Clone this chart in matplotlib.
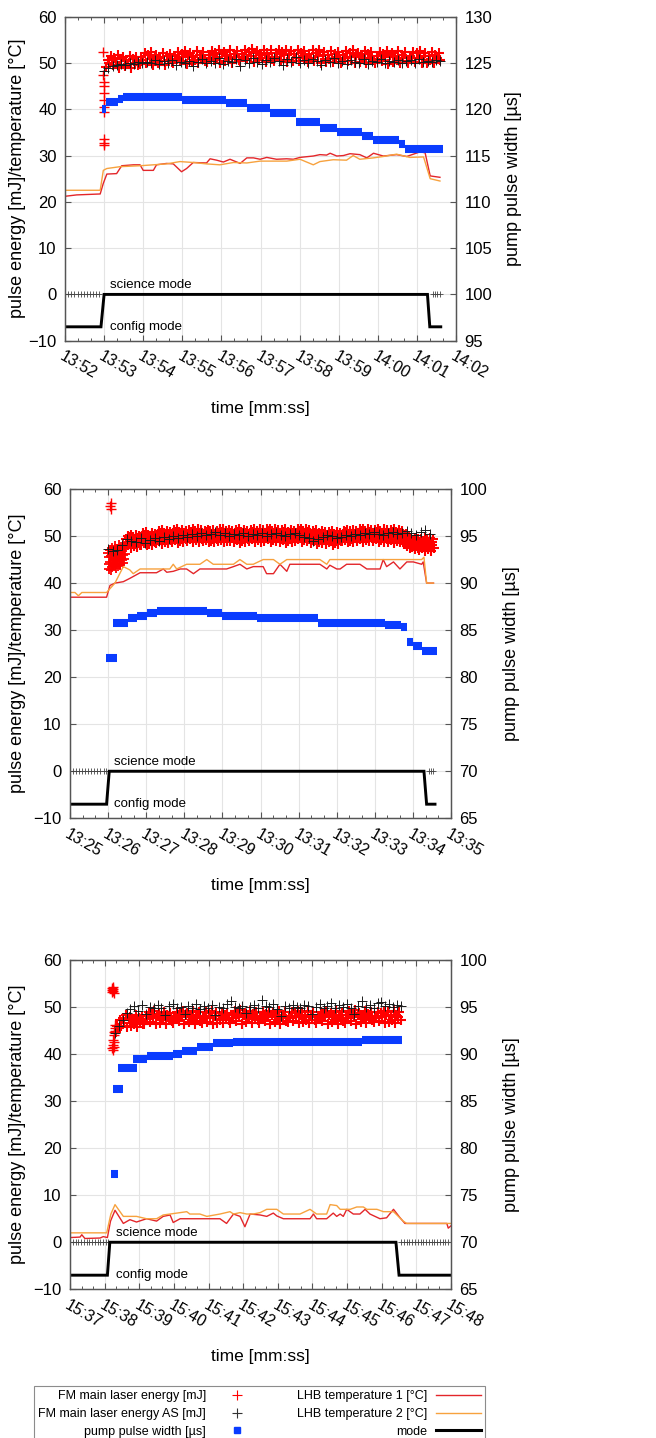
import numpy as np
import matplotlib
matplotlib.use('Agg')
import matplotlib.pyplot as plt
from matplotlib.lines import Line2D
from matplotlib.ticker import MultipleLocator

plt.rcParams['font.family'] = ['Liberation Sans', 'DejaVu Sans']

# ---------------------------------------------------------------- DATA
# time unit: minutes after the first tick of each panel

# ---- panel 1 (13:52 .. 14:02)
p1_ticklabels = ['13:52', '13:53', '13:54', '13:55', '13:56', '13:57',
                 '13:58', '13:59', '14:00', '14:01', '14:02']
p1_red_span = (1.05, 9.60)
p1_red = [49.1, 50.7, 50.0, 51.5, 49.5, 51.1, 50.3, 51.7, 48.9, 50.8, 51.2, 49.3, 50.5, 49.8, 51.6, 49.0, 50.9, 50.1, 51.4, 49.6,
          49.7, 51.3, 50.6, 52.1, 50.1, 51.7, 50.9, 52.3, 49.5, 51.4, 51.8, 49.9, 51.1, 50.4, 52.2, 49.6, 51.5, 50.7, 52.0, 50.2,
          50.0, 51.6, 50.9, 52.4, 50.4, 52.0, 51.2, 52.6, 49.8, 51.7, 52.1, 50.2, 51.4, 50.7, 52.5, 49.9, 51.8, 51.0, 52.3, 50.5,
          50.2, 51.8, 51.1, 52.6, 50.6, 52.2, 51.4, 52.8, 50.0, 51.9, 52.3, 50.4, 51.6, 50.9, 52.7, 50.1, 52.0, 51.2, 52.5, 50.7,
          50.4, 52.0, 51.3, 52.8, 50.8, 52.4, 51.6, 53.0, 50.2, 52.1, 52.5, 50.6, 51.8, 51.1, 52.9, 50.3, 52.2, 51.4, 52.7, 50.9,
          50.5, 52.1, 51.2, 52.9, 50.7, 52.3, 51.7, 52.9, 50.3, 52.0, 52.6, 50.5, 51.9, 51.0, 52.8, 50.4, 52.1, 51.5, 52.6, 51.0,
          50.3, 51.9, 51.0, 52.7, 50.5, 52.1, 51.5, 52.7, 50.1, 51.8, 52.4, 50.3, 51.7, 50.8, 52.6, 50.2, 51.9, 51.3, 52.4, 50.8,
          50.1, 51.7, 51.0, 52.5, 50.5, 52.1, 51.3, 52.7, 49.9, 51.8, 52.2, 50.3, 51.5, 50.8, 52.6, 50.0, 51.9, 51.1, 52.4, 50.6,
          50.0, 51.6, 50.9, 52.4, 50.4, 52.0, 51.2, 52.6, 49.8, 51.7, 52.1, 50.2, 51.4, 50.7, 52.5, 49.9, 51.8, 51.0, 52.3, 50.5,
          50.1, 51.5, 51.0, 52.3, 50.3, 52.1, 51.1, 52.5, 49.9, 51.6, 52.2, 50.1, 51.5, 50.6, 52.4, 50.0, 51.7, 51.1, 52.2, 50.6]
p1_red_out_t = [0.98, 0.98, 0.99, 0.99, 1.00, 1.00, 1.00, 1.01, 0.99, 1.00, 1.00]
p1_red_out = [52.3, 47.5, 46.0, 45.0, 43.5, 42.0, 40.5, 39.5, 33.5, 32.8, 32.3]
p1_blk_span = (1.00, 9.60)
p1_blk = [48.2, 49.0, 49.3, 49.6, 49.8, 49.5, 50.0, 49.7, 50.2, 49.9,
          50.3, 50.0, 50.6, 49.8, 50.4, 50.1, 50.7, 49.6, 50.3, 50.0,
          50.5, 49.4, 50.2, 50.8, 49.9, 50.4, 50.1, 51.0, 49.7, 50.5,
          50.2, 50.9, 49.3, 50.6, 50.0, 51.1, 50.3, 49.8, 50.7, 50.2,
          51.0, 50.4, 49.5, 50.8, 50.3, 51.2, 49.9, 50.6, 50.1, 50.9,
          50.4, 49.6, 50.7, 50.2, 51.0, 50.0, 50.5, 49.8, 50.6, 50.3,
          50.1, 50.8, 49.7, 50.4, 50.2, 50.9, 50.0, 50.5, 50.3, 50.7,
          49.9, 50.4, 50.6, 50.1, 50.8, 50.3, 50.5, 50.2, 50.6, 50.4]
p1_blk_zero_t = [0.00, 0.08, 0.16, 0.24, 0.32, 0.40, 0.48, 0.56, 0.64, 0.72, 0.80, 0.88,
                 9.40, 9.46, 9.52, 9.58]
p1_pump_t0 = [0.94, 1.05, 1.36, 1.49, 2.98, 4.13, 4.65, 5.24, 5.92, 6.52, 6.95, 7.59, 7.89, 8.53, 8.70]
p1_pump_t1 = [1.05, 1.36, 1.49, 2.98, 4.13, 4.65, 5.24, 5.92, 6.52, 6.95, 7.59, 7.89, 8.53, 8.70, 9.68]
p1_pump = [120.0, 120.8, 121.1, 121.3, 121.0, 120.7, 120.1, 119.6, 118.6, 118.0,
           117.5, 117.1, 116.7, 116.3, 115.7]
p1_t1_t = [0.00, 0.30, 0.90, 0.98, 1.07, 1.32, 1.45, 1.75, 1.92, 2.00,
           2.26, 2.34, 2.60, 2.77, 2.98, 3.11, 3.28, 3.62, 3.71, 3.88,
           4.05, 4.22, 4.48, 4.65, 4.82, 4.99, 5.16, 5.41, 5.67, 5.84,
           6.01, 6.35, 6.52, 6.69, 6.78, 6.95, 7.12, 7.29, 7.54, 7.72,
           7.89, 8.14, 8.48, 8.74, 9.08, 9.21, 9.34, 9.59]
p1_t1 = [21.2, 21.5, 21.7, 24.0, 26.0, 26.1, 27.8, 28.0, 28.0, 26.8,
         26.8, 28.0, 28.3, 28.2, 26.5, 27.2, 28.5, 28.4, 29.3, 29.0,
         28.6, 29.2, 28.3, 29.5, 29.5, 29.2, 29.6, 29.2, 29.3, 29.2,
         29.6, 29.9, 30.2, 30.1, 30.5, 29.9, 30.0, 30.4, 30.2, 29.5,
         30.5, 29.9, 30.2, 29.8, 30.8, 30.6, 25.6, 25.3]
p1_t2_t = [0.00, 0.90, 0.98, 1.07, 1.41, 1.92, 2.26, 2.60, 2.94, 3.28,
           3.62, 3.96, 4.31, 4.65, 4.99, 5.33, 5.67, 6.01, 6.35, 6.52,
           6.86, 7.20, 7.37, 7.54, 7.89, 8.14, 8.48, 8.82, 9.17, 9.34, 9.59]
p1_t2 = [22.5, 22.5, 26.8, 27.2, 27.6, 27.8, 28.0, 28.2, 28.7, 28.5,
         28.2, 28.0, 28.5, 28.4, 28.8, 28.8, 28.8, 29.2, 28.0, 28.7,
         29.1, 29.0, 30.0, 29.2, 29.5, 29.8, 30.3, 29.6, 29.7, 25.0, 24.5]
p1_mode_t = [0.00, 0.92, 1.00, 9.27, 9.33, 9.61]
p1_mode = [-7, -7, 0, 0, -7, -7]
p1_text_t = 1.15

# ---- panel 2 (13:25 .. 13:35)
p2_ticklabels = ['13:25', '13:26', '13:27', '13:28', '13:29', '13:30',
                 '13:31', '13:32', '13:33', '13:34', '13:35']
p2_red_cl_span = (1.00, 1.45)
p2_red_cl = [46.5, 44.0, 45.5, 43.0, 47.0, 44.5, 42.8, 45.8, 47.5, 43.5,
             46.0, 44.2, 46.8, 43.8, 45.2, 47.8, 44.8, 46.2, 43.3, 45.0,
             47.2, 44.6, 46.4, 43.6, 45.6, 48.0, 44.1, 46.6, 43.9, 45.4,
             47.6, 44.9, 46.9, 44.3, 45.9, 48.2, 45.1, 47.3, 46.1, 47.9]
p2_red_span = (1.45, 9.55)
p2_red = [47.7, 49.3, 48.6, 50.1, 48.1, 49.7, 48.9, 50.3, 47.5, 49.4, 49.8, 47.9, 49.1, 48.4, 50.2, 47.6, 49.5, 48.7, 50.0, 48.2,
          48.2, 49.8, 49.1, 50.6, 48.6, 50.2, 49.4, 50.8, 48.0, 49.9, 50.3, 48.4, 49.6, 48.9, 50.7, 48.1, 50.0, 49.2, 50.5, 48.7,
          48.6, 50.2, 49.5, 51.0, 49.0, 50.6, 49.8, 51.2, 48.4, 50.3, 50.7, 48.8, 50.0, 49.3, 51.1, 48.5, 50.4, 49.6, 50.9, 49.1,
          48.8, 50.4, 49.7, 51.2, 49.2, 50.8, 50.0, 51.4, 48.6, 50.5, 50.9, 49.0, 50.2, 49.5, 51.3, 48.7, 50.6, 49.8, 51.1, 49.3,
          48.9, 50.5, 49.8, 51.3, 49.3, 50.9, 50.1, 51.5, 48.7, 50.6, 51.0, 49.1, 50.3, 49.6, 51.4, 48.8, 50.7, 49.9, 51.2, 49.4,
          48.9, 50.3, 49.8, 51.1, 49.1, 50.9, 49.9, 51.3, 48.7, 50.4, 51.0, 48.9, 50.3, 49.4, 51.2, 48.8, 50.5, 49.9, 51.0, 49.4,
          48.9, 50.6, 49.7, 51.4, 49.2, 50.8, 50.2, 51.4, 48.8, 50.5, 51.1, 49.0, 50.4, 49.5, 51.3, 48.9, 50.6, 50.0, 51.1, 49.5,
          48.8, 50.4, 49.7, 51.2, 49.2, 50.8, 50.0, 51.4, 48.6, 50.5, 50.9, 49.0, 50.2, 49.5, 51.3, 48.7, 50.6, 49.8, 51.1, 49.3,
          48.9, 50.5, 49.8, 51.3, 49.3, 50.9, 50.1, 51.5, 48.7, 50.6, 51.0, 49.1, 50.3, 49.6, 51.4, 48.8, 50.7, 49.9, 51.2, 49.4,
          49.0, 50.6, 49.9, 51.4, 49.4, 51.0, 50.2, 51.6, 48.8, 50.7, 51.1, 49.2, 50.4, 49.7, 51.5, 48.9, 50.8, 50.0, 51.3, 49.5,
          48.8, 50.4, 49.7, 51.2, 49.2, 50.8, 50.0, 51.4, 48.6, 50.5, 50.9, 49.0, 50.2, 49.5, 51.3, 48.7, 50.6, 49.8, 51.1, 49.3,
          49.0, 50.6, 49.9, 51.4, 49.4, 51.0, 50.2, 51.6, 48.8, 50.7, 51.1, 49.2, 50.4, 49.7, 51.5, 48.9, 50.8, 50.0, 51.3, 49.5,
          48.6, 50.2, 49.5, 51.0, 49.0, 50.6, 49.8, 51.2, 48.4, 50.3, 50.7, 48.8, 50.0, 49.3, 51.1, 48.5, 50.4, 49.6, 50.9, 49.1,
          48.4, 50.0, 49.3, 50.8, 48.8, 50.4, 49.6, 51.0, 48.2, 50.1, 50.5, 48.6, 49.8, 49.1, 50.9, 48.3, 50.2, 49.4, 50.7, 48.9,
          48.9, 50.3, 49.8, 51.1, 49.1, 50.9, 49.9, 51.3, 48.7, 50.4, 51.0, 48.9, 50.3, 49.4, 51.2, 48.8, 50.5, 49.9, 51.0, 49.4,
          49.0, 50.6, 49.9, 51.4, 49.4, 51.0, 50.2, 51.6, 48.8, 50.7, 51.1, 49.2, 50.4, 49.7, 51.5, 48.9, 50.8, 50.0, 51.3, 49.5,
          48.9, 50.5, 49.8, 51.3, 49.3, 50.9, 50.1, 51.5, 48.7, 50.6, 51.0, 49.1, 50.3, 49.6, 51.4, 48.8, 50.7, 49.9, 51.2, 49.4,
          48.8, 50.4, 49.7, 51.2, 49.2, 50.8, 50.0, 51.4, 48.6, 50.5, 50.9, 49.0, 50.2, 49.5, 51.3, 48.7, 50.6, 49.8, 51.1, 49.3,
          48.3, 49.9, 48.8, 50.4, 47.9, 49.6, 48.6, 50.0, 47.5, 49.0, 49.3, 47.6, 48.7, 47.9, 49.6, 47.2, 48.8, 48.0, 49.3, 47.5,
          47.0, 48.6, 47.9, 49.4, 47.4, 49.0, 48.2, 49.6, 46.8, 48.7, 49.1, 47.2, 48.4, 47.7, 49.5, 46.9, 48.8, 48.0, 49.3, 47.5]
p2_red_out_t = [1.06, 1.07, 1.08]
p2_red_out = [56.3, 57.0, 55.8]
p2_blk_span = (1.00, 9.45)
p2_blk = [47.2, 46.9, 47.0, 48.0, 49.3, 49.0, 48.8, 49.5, 48.6, 49.2,
          49.6, 49.0, 49.8, 49.3, 50.0, 49.6, 50.3, 49.8, 50.5, 50.1,
          50.7, 50.2, 50.4, 50.8, 50.3, 50.6, 50.1, 50.5, 50.2, 50.7,
          50.0, 50.4, 50.2, 50.6, 50.1, 50.5, 50.7, 50.3, 50.0, 50.4,
          50.6, 50.2, 49.8, 49.5, 49.0, 49.4, 49.8, 50.2, 50.0, 49.6,
          49.8, 50.3, 50.0, 50.5, 50.2, 50.6, 50.4, 50.8, 50.5, 50.3,
          50.6, 50.9, 50.4, 50.7, 51.0, 50.6, 50.2, 50.8, 51.3, 50.5]
p2_blk_zero_t = [0.00, 0.08, 0.16, 0.24, 0.32, 0.40, 0.48, 0.56, 0.64, 0.72, 0.80, 0.88, 0.95,
                 9.42, 9.48, 9.54]
p2_pump_t0 = [0.95, 1.14, 1.53, 1.75, 2.01, 2.28, 3.59, 3.98, 4.90, 6.52, 8.27, 8.70, 8.84, 9.01, 9.23]
p2_pump_t1 = [1.24, 1.53, 1.75, 2.01, 2.28, 3.59, 3.98, 4.90, 6.52, 8.27, 8.70, 8.84, 9.01, 9.23, 9.62]
p2_pump = [82.0, 85.8, 86.25, 86.55, 86.8, 87.05, 86.8, 86.55, 86.25, 85.8,
           85.55, 85.3, 83.75, 83.3, 82.8]
p2_t1_t = [0.00, 0.96, 1.05, 1.18, 1.40, 1.57, 1.84, 2.27, 2.45, 2.54,
           2.71, 2.89, 3.06, 3.24, 3.41, 3.76, 4.11, 4.29, 4.46, 4.64,
           4.81, 5.07, 5.16, 5.34, 5.51, 5.69, 5.77, 6.04, 6.30, 6.56,
           6.74, 6.82, 7.00, 7.09, 7.26, 7.61, 7.79, 8.14, 8.22, 8.31,
           8.49, 8.66, 8.84, 9.01, 9.23, 9.27, 9.36, 9.54]
p2_t1 = [37.0, 37.0, 39.5, 40.0, 40.3, 41.0, 42.2, 42.2, 43.0, 42.3,
         42.5, 43.0, 43.0, 42.0, 43.0, 43.0, 43.0, 43.5, 44.0, 43.0,
         43.5, 43.5, 42.0, 42.0, 44.0, 42.5, 44.0, 44.0, 44.0, 44.0,
         43.0, 43.8, 43.0, 43.0, 44.0, 44.0, 43.0, 43.0, 45.0, 43.5,
         44.5, 43.0, 44.5, 44.5, 44.0, 44.5, 40.0, 40.0]
p2_t2_t = [0.00, 0.13, 0.22, 0.31, 0.96, 1.18, 1.40, 1.57, 1.66, 1.84,
           2.27, 2.62, 2.71, 2.80, 3.06, 3.41, 3.59, 3.76, 4.11, 4.29,
           4.46, 4.64, 4.81, 5.07, 5.34, 5.51, 5.69, 6.04, 6.56, 6.74,
           6.82, 7.26, 7.79, 8.22, 9.23, 9.29, 9.36, 9.54]
p2_t2 = [38.0, 38.0, 37.3, 38.0, 38.0, 40.0, 43.5, 42.8, 42.0, 43.0,
         43.0, 43.0, 44.0, 43.0, 44.0, 44.0, 45.0, 44.0, 44.0, 44.0,
         45.0, 44.0, 44.0, 45.0, 45.0, 44.0, 45.0, 45.0, 45.0, 44.0,
         45.0, 45.0, 45.0, 45.0, 45.0, 45.5, 40.0, 40.0]
p2_mode_t = [0.00, 0.96, 1.03, 9.29, 9.36, 9.58]
p2_mode = [-7, -7, 0, 0, -7, -7]
p2_text_t = 1.16

# ---- panel 3 (15:37 .. 15:48)
p3_ticklabels = ['15:37', '15:38', '15:39', '15:40', '15:41', '15:42',
                 '15:43', '15:44', '15:45', '15:46', '15:47', '15:48']
p3_red_span = (1.32, 9.55)
p3_red = [44.8, 46.0, 45.5, 47.2, 45.9, 47.6, 46.6, 48.3, 45.8, 47.5, 47.9, 46.0, 47.2, 46.5, 48.3, 45.7, 47.6, 46.8, 48.1, 46.3,
          46.5, 48.1, 47.4, 48.9, 46.9, 48.5, 47.7, 49.1, 46.3, 48.2, 48.6, 46.7, 47.9, 47.2, 49.0, 46.4, 48.3, 47.5, 48.8, 47.0,
          46.6, 48.2, 47.5, 49.0, 47.0, 48.6, 47.8, 49.2, 46.4, 48.3, 48.7, 46.8, 48.0, 47.3, 49.1, 46.5, 48.4, 47.6, 48.9, 47.1,
          46.7, 48.1, 47.6, 48.9, 46.9, 48.7, 47.7, 49.1, 46.5, 48.2, 48.8, 46.7, 48.1, 47.2, 49.0, 46.6, 48.3, 47.7, 48.8, 47.2,
          46.7, 48.3, 47.6, 49.1, 47.1, 48.7, 47.9, 49.3, 46.5, 48.4, 48.8, 46.9, 48.1, 47.4, 49.2, 46.6, 48.5, 47.7, 49.0, 47.2,
          46.6, 48.2, 47.5, 49.0, 47.0, 48.6, 47.8, 49.2, 46.4, 48.3, 48.7, 46.8, 48.0, 47.3, 49.1, 46.5, 48.4, 47.6, 48.9, 47.1,
          46.8, 48.2, 47.7, 49.0, 47.0, 48.8, 47.8, 49.2, 46.6, 48.3, 48.9, 46.8, 48.2, 47.3, 49.1, 46.7, 48.4, 47.8, 48.9, 47.3,
          46.6, 48.2, 47.5, 49.0, 47.0, 48.6, 47.8, 49.2, 46.4, 48.3, 48.7, 46.8, 48.0, 47.3, 49.1, 46.5, 48.4, 47.6, 48.9, 47.1,
          46.7, 48.3, 47.6, 49.1, 47.1, 48.7, 47.9, 49.3, 46.5, 48.4, 48.8, 46.9, 48.1, 47.4, 49.2, 46.6, 48.5, 47.7, 49.0, 47.2,
          46.8, 48.2, 47.7, 49.0, 47.0, 48.8, 47.8, 49.2, 46.6, 48.3, 48.9, 46.8, 48.2, 47.3, 49.1, 46.7, 48.4, 47.8, 48.9, 47.3]
p3_red_out_t = [1.20, 1.21, 1.22, 1.23, 1.24, 1.25, 1.26,
                1.22, 1.23, 1.24, 1.25, 1.26, 1.27,
                1.27, 1.28, 1.29, 1.30, 1.31]
p3_red_out = [54.0, 53.6, 53.2, 53.8, 54.2, 53.4, 53.0,
              41.2, 42.0, 40.8, 43.0, 41.6, 42.5,
              44.0, 44.8, 45.5, 46.2, 45.0]
p3_blk_span = (1.30, 9.55)
p3_blk = [44.5, 46.0, 47.3, 48.8, 49.6, 50.3, 49.2, 50.5, 48.6, 50.1,
          49.8, 50.4, 49.9, 48.4, 50.2, 50.6, 49.7, 50.0, 48.5, 50.3,
          49.9, 50.7, 49.6, 50.2, 49.8, 50.5, 48.3, 50.1, 49.9, 50.6,
          51.2, 50.0, 49.7, 50.3, 48.7, 50.1, 50.5, 49.8, 51.4, 50.2,
          50.0, 50.6, 49.6, 48.2, 50.3, 49.9, 50.4, 50.1, 49.7, 50.5,
          50.2, 48.6, 50.0, 50.6, 49.8, 50.3, 50.8, 49.9, 50.4, 50.1,
          50.7, 49.8, 48.5, 50.3, 51.2, 50.0, 50.5, 49.9, 50.8, 51.0,
          50.3, 50.6, 50.1, 50.4, 50.3]
p3_blk_zero_t = [0.00, 0.08, 0.16, 0.24, 0.32, 0.40, 0.48, 0.56, 0.64, 0.72, 0.80, 0.88,
                 0.96, 1.04, 1.10,
                 9.56, 9.64, 9.72, 9.80, 9.88, 9.96, 10.04, 10.12, 10.20, 10.28,
                 10.36, 10.44, 10.52, 10.60, 10.68, 10.76, 10.84, 10.92, 11.00]
p3_pump_t0 = [1.18, 1.25, 1.40, 1.83, 2.21, 2.98, 3.22, 3.66, 4.14, 4.72, 8.42]
p3_pump_t1 = [1.40, 1.52, 1.92, 2.21, 2.98, 3.22, 3.66, 4.14, 4.72, 8.42, 9.58]
p3_pump = [77.25, 86.25, 88.55, 89.5, 89.75, 90.0, 90.35, 90.8, 91.15, 91.3, 91.55]
p3_t1_t = [0.00, 0.29, 0.34, 0.43, 0.87, 0.96, 1.08, 1.17, 1.30, 1.54,
           1.73, 1.92, 2.21, 2.50, 2.69, 2.89, 2.98, 3.18, 3.75, 4.33,
           4.52, 4.72, 4.91, 5.05, 5.20, 5.49, 5.68, 5.87, 5.97, 6.16,
           6.64, 6.93, 7.03, 7.12, 7.41, 7.60, 7.70, 7.80, 7.89, 7.99,
           8.18, 8.37, 8.52, 8.66, 8.95, 9.14, 9.34, 9.53, 9.67, 10.88,
           10.92, 11.00]
p3_t1 = [1.0, 1.1, 1.6, 0.8, 0.9, 1.2, 1.0, 4.5, 6.8, 4.0,
         4.8, 4.3, 5.0, 4.5, 5.5, 5.8, 4.2, 5.0, 5.0, 5.0,
         4.0, 6.0, 5.5, 3.3, 6.0, 5.8, 5.5, 6.2, 5.6, 5.0,
         5.0, 5.0, 6.0, 5.0, 5.0, 6.2, 5.5, 6.0, 5.5, 7.0,
         6.0, 6.0, 7.0, 6.0, 5.0, 5.2, 7.0, 5.2, 4.0, 4.0,
         3.0, 3.5]
p3_t2_t = [0.00, 1.06, 1.18, 1.30, 1.54, 1.92, 2.21, 2.50, 2.69, 2.89,
           3.18, 3.37, 3.46, 3.75, 3.95, 4.33, 4.62, 4.72, 4.91, 5.10,
           5.29, 5.49, 5.68, 5.97, 6.16, 6.64, 6.93, 7.12, 7.41, 7.51,
           7.70, 7.80, 8.09, 8.28, 8.47, 8.57, 8.86, 9.05, 9.34, 9.62,
           9.72, 11.00]
p3_t2 = [2.0, 2.0, 6.0, 8.0, 5.5, 5.5, 5.0, 5.0, 5.8, 6.0,
         6.3, 6.5, 6.0, 6.0, 5.5, 6.0, 6.5, 6.0, 6.3, 6.0,
         6.0, 6.3, 7.0, 7.0, 6.0, 6.0, 7.0, 6.0, 6.0, 8.0,
         7.8, 7.0, 7.0, 7.5, 7.5, 7.0, 7.0, 6.5, 6.5, 4.5,
         4.0, 4.0]
p3_mode_t = [0.00, 1.08, 1.15, 9.41, 9.50, 11.00]
p3_mode = [-7, -7, 0, 0, -7, -7]
p3_text_t = 1.33

y_left_lim = (-10, 60)
p1_y2_lim = (95, 130)
p23_y2_lim = (65, 100)

legend_labels = ['FM main laser energy [mJ]', 'FM main laser energy AS [mJ]',
                 'pump pulse width [\u00b5s]', 'LHB temperature 1 [\u00b0C]',
                 'LHB temperature 2 [\u00b0C]', 'mode']

# ---------------------------------------------------------------- STYLE
W, H, DPI = 656, 1438, 100
RED = '#ff0000'
BLK = '#1a1a1a'
BLUE = '#0a3cff'
T1C = '#e3262a'
T2C = '#f7a23e'
GRID = '#e4e4e4'
SPINE = '#555555'

fig = plt.figure(figsize=(W / DPI, H / DPI), dpi=DPI)

panels = [
    dict(box=(65, 16.7, 456, 340.7), labels=p1_ticklabels, y2=p1_y2_lim,
         red=(p1_red_span, p1_red), red_cl=None, red_out=(p1_red_out_t, p1_red_out),
         blk=(p1_blk_span, p1_blk), blk0=p1_blk_zero_t,
         pump=(p1_pump_t0, p1_pump_t1, p1_pump), t1=(p1_t1_t, p1_t1), t2=(p1_t2_t, p1_t2),
         mode=(p1_mode_t, p1_mode), text_t=p1_text_t, ylab2_x=505),
    dict(box=(70, 489, 451, 818.3), labels=p2_ticklabels, y2=p23_y2_lim,
         red=(p2_red_span, p2_red), red_cl=(p2_red_cl_span, p2_red_cl),
         red_out=(p2_red_out_t, p2_red_out),
         blk=(p2_blk_span, p2_blk), blk0=p2_blk_zero_t,
         pump=(p2_pump_t0, p2_pump_t1, p2_pump), t1=(p2_t1_t, p2_t1), t2=(p2_t2_t, p2_t2),
         mode=(p2_mode_t, p2_mode), text_t=p2_text_t, ylab2_x=503),
    dict(box=(70, 960, 451, 1289.3), labels=p3_ticklabels, y2=p23_y2_lim,
         red=(p3_red_span, p3_red), red_cl=None, red_out=(p3_red_out_t, p3_red_out),
         blk=(p3_blk_span, p3_blk), blk0=p3_blk_zero_t,
         pump=(p3_pump_t0, p3_pump_t1, p3_pump), t1=(p3_t1_t, p3_t1), t2=(p3_t2_t, p3_t2),
         mode=(p3_mode_t, p3_mode), text_t=p3_text_t, ylab2_x=503),
]

for p in panels:
    x0, y0, x1, y1 = p['box']
    wpx, hpx = x1 - x0, y1 - y0
    ax = fig.add_axes([x0 / W, 1 - y1 / H, wpx / W, hpx / H])
    ax2 = ax.twinx()
    n = len(p['labels']) - 1
    ax.set_xlim(0, n)
    ax.set_ylim(*y_left_lim)
    ax2.set_ylim(*p['y2'])

    ax.set_xticks(range(n + 1))
    ax.set_xticklabels(p['labels'], rotation=-30, ha='left', va='top',
                       rotation_mode='anchor', fontsize=11.5)
    ax.xaxis.set_minor_locator(MultipleLocator(1 / 3))
    ax.set_yticks(range(-10, 61, 10))
    ax.grid(True, which='major', color=GRID, lw=0.8)
    ax.set_axisbelow(True)

    # energies
    (rs, rv) = p['red']
    ax.plot(np.linspace(rs[0], rs[1], len(rv)), rv, ls='none', marker='+',
            color=RED, ms=7, mew=1.5)
    if p['red_cl'] is not None:
        cs, cv = p['red_cl']
        ax.plot(np.linspace(cs[0], cs[1], len(cv)), cv, ls='none', marker='+',
                color=RED, ms=7, mew=1.3)
    ax.plot(p['red_out'][0], p['red_out'][1], ls='none', marker='+', color=RED,
            ms=6.5, mew=1.0)
    (bs, bv) = p['blk']
    ax.plot(np.linspace(bs[0], bs[1], len(bv)), bv, ls='none', marker='+',
            color=BLK, ms=6.5, mew=0.7)
    ax.plot(p['blk0'], np.zeros(len(p['blk0'])), ls='none', marker='+',
            color='#444444', ms=5, mew=0.6)

    # temperatures and mode
    ax.plot(p['t1'][0], p['t1'][1], color=T1C, lw=1.0)
    ax.plot(p['t2'][0], p['t2'][1], color=T2C, lw=1.0)
    ax.plot(p['mode'][0], p['mode'][1], color='black', lw=2.1,
            solid_joinstyle='miter')
    ax.text(p['text_t'], 2.0, 'science mode', fontsize=9.5, ha='left', va='center')
    ax.text(p['text_t'], -7.0, 'config mode', fontsize=9.5, ha='left', va='center')

    # pump pulse width (right axis)
    t0s, t1s, pv = p['pump']
    ax2.hlines(pv, t0s, t1s, colors=BLUE, lw=5.8, capstyle='butt')

    # ticks / spines
    ax.tick_params(axis='x', which='both', direction='in', top=True, bottom=True,
                   pad=6)
    ax.tick_params(axis='x', which='major', length=4.5, width=0.8, color=SPINE)
    ax.tick_params(axis='x', which='minor', length=2.5, width=0.7, color=SPINE)
    ax.tick_params(axis='y', which='major', direction='in', length=4.5, width=0.8,
                   color=SPINE, labelsize=12, pad=6, right=False)
    ax2.tick_params(axis='y', which='major', direction='in', length=4.5, width=0.8,
                    color=SPINE, labelsize=12, pad=6)
    for a in (ax, ax2):
        for s in a.spines.values():
            s.set_color(SPINE)
            s.set_linewidth(0.9)

    ax.set_xlabel('time [mm:ss]', fontsize=12.5)
    ax.xaxis.set_label_coords(0.5, -60 / hpx)
    ax.set_ylabel('pulse energy [mJ]/temperature [\u00b0C]', fontsize=13)
    ax.yaxis.set_label_coords((26 - x0) / wpx, 0.5)
    ax2.set_ylabel('pump pulse width [\u00b5s]', fontsize=13)
    ax2.yaxis.set_label_coords((p['ylab2_x'] - x0) / wpx, 0.5)

handles = [
    Line2D([], [], ls='none', marker='+', color=RED, ms=7, mew=0.8),
    Line2D([], [], ls='none', marker='+', color='#333333', ms=7, mew=0.8),
    Line2D([], [], ls='none', marker='s', color=BLUE, ms=5),
    Line2D([], [], color=T1C, lw=1.0),
    Line2D([], [], color=T2C, lw=1.0),
    Line2D([], [], color='black', lw=2.2),
]
leg = fig.legend(handles, legend_labels, ncols=2, markerfirst=False, mode='expand',
                 loc='upper left',
                 bbox_to_anchor=(34 / W, 1 - 1386 / H - 0.01, 451 / W, 0.01),
                 frameon=True, fancybox=False, edgecolor='#707070', fontsize=9,
                 handlelength=3.6, handletextpad=0.7, labelspacing=0.45,
                 borderpad=0.35, borderaxespad=0, columnspacing=1.0)
leg.get_frame().set_linewidth(0.8)

fig.savefig('out.png', dpi=DPI)
